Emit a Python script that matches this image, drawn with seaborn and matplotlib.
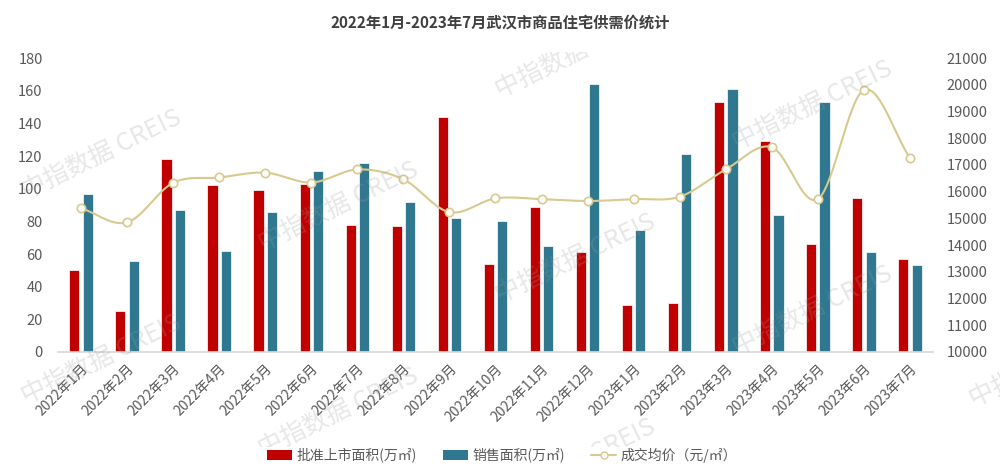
import matplotlib
matplotlib.use("Agg")
import matplotlib.pyplot as plt
from matplotlib.lines import Line2D
from matplotlib.patches import Patch
from matplotlib.transforms import Bbox, TransformedBbox
import numpy as np
import pandas as pd
import seaborn as sns

# ---- data ----
months = ["2022年1月", "2022年2月", "2022年3月", "2022年4月", "2022年5月", "2022年6月",
          "2022年7月", "2022年8月", "2022年9月", "2022年10月", "2022年11月", "2022年12月",
          "2023年1月", "2023年2月", "2023年3月", "2023年4月", "2023年5月", "2023年6月",
          "2023年7月"]
approved = [50, 25, 118, 102, 99, 103, 78, 77, 144, 54, 89, 61, 29, 30, 153, 129, 66, 94, 57]
sold = [97, 56, 87, 62, 86, 111, 116, 92, 82, 80, 65, 164, 75, 121, 161, 84, 153, 61, 53]
price = [15380, 14850, 16330, 16530, 16710, 16340, 16830, 16460, 15230, 15750, 15720,
         15650, 15720, 15810, 16830, 17660, 15720, 19800, 17260]

series_names = ["批准上市面积(万㎡)", "销售面积(万㎡)"]
line_name = "成交均价（元/㎡）"
title = "2022年1月-2023年7月武汉市商品住宅供需价统计"

RED = "#C00000"
TEAL = "#2F7890"
KHAKI = "#D8C98E"
GREY = "#595959"

sns.set_theme(style="white")
plt.rcParams["font.family"] = ["Noto Sans CJK SC", "DejaVu Sans"]

# long table for seaborn
df = pd.DataFrame({
    "month": months * 2,
    "value": approved + sold,
    "series": [series_names[0]] * len(months) + [series_names[1]] * len(months),
})

fig = plt.figure(figsize=(10, 4.74), dpi=100)
ax = fig.add_axes([0.058, 0.2574, 0.875, 0.6202])

sns.barplot(data=df, x="month", y="value", hue="series", order=months,
            palette=[RED, TEAL], saturation=1, width=0.58, gap=0.24,
            edgecolor="white", linewidth=0.5, legend=False, ax=ax)

ax.set_xlim(-0.5, len(months) - 0.5)
ax.set_ylim(0, 180)
ax.set_yticks(range(0, 181, 20))
ax.set_xlabel("")
ax.set_ylabel("")
for s in ["top", "left", "right"]:
    ax.spines[s].set_visible(False)
ax.spines["bottom"].set_color("#D9D9D9")
ax.tick_params(axis="y", length=0, pad=11, labelsize=10.5, labelcolor=GREY)
ax.tick_params(axis="x", which="major", length=0, pad=7, labelsize=10, labelcolor=GREY)
ax.set_xticks(np.arange(-0.5, len(months), 1), minor=True)
ax.tick_params(axis="x", which="minor", length=5, color="#D9D9D9")
plt.setp(ax.get_xticklabels(), rotation=45, ha="right", rotation_mode="anchor")

# ---- price line (smoothed) on right axis ----
ax2 = ax.twinx()
x = np.arange(len(price))
y = np.array(price, dtype=float)
# catmull-rom style smoothing between the read points
tang = np.gradient(y)
xs, ys = [], []
for i in range(len(x) - 1):
    t = np.linspace(0, 1, 30)
    h00 = 2 * t**3 - 3 * t**2 + 1
    h10 = t**3 - 2 * t**2 + t
    h01 = -2 * t**3 + 3 * t**2
    h11 = t**3 - t**2
    xs.append(x[i] + t)
    ys.append(h00 * y[i] + h10 * tang[i] + h01 * y[i + 1] + h11 * tang[i + 1])
ax2.plot(np.concatenate(xs), np.concatenate(ys), color=KHAKI, lw=1.5, zorder=3)
ax2.plot(x, y, linestyle="none", marker="o", ms=6, mfc="white", mec=KHAKI, mew=1.2, zorder=4)
ax2.set_ylim(10000, 21000)
ax2.set_yticks(range(10000, 21001, 1000))
for s in ["top", "left", "right", "bottom"]:
    ax2.spines[s].set_visible(False)
ax2.tick_params(axis="y", length=0, pad=10, labelsize=10.5, labelcolor=GREY)
ax2.grid(False)
ax.grid(False)

fig.text(0.5, 0.953, title, ha="center", va="center", fontsize=11, fontweight="bold",
         color="#404040")

handles = [Patch(facecolor=RED, edgecolor="none"),
           Patch(facecolor=TEAL, edgecolor="none"),
           Line2D([], [], color=KHAKI, lw=1.5, marker="o", ms=5, mfc="white", mec=KHAKI)]
fig.legend(handles, series_names + [line_name], loc="center", bbox_to_anchor=(0.502, 0.04),
           ncol=3, frameon=False, fontsize=10, handlelength=1.8, handletextpad=0.3,
           columnspacing=1.9, labelcolor=GREY)

# ---- watermark stamps (clipped to the picture band like the source image) ----
clip = TransformedBbox(Bbox([[0, 27 / 474], [1, 422 / 474]]), fig.transFigure)
stamps = [(101, 155), (338, 207), (575, 259), (812, 311), (101, 360), (338, 413),
          (575, 54), (812, 106), (1049, 363), (575, 464)]
for px, py in stamps:
    t = fig.text(px / 1000, 1 - py / 474, "中指数据 CREIS", ha="center", va="center",
                 rotation=26, rotation_mode="anchor", fontsize=18, fontweight="medium",
                 color="#9A9A9A", alpha=0.24, zorder=10)
    t.set_clip_on(True)
    t.set_clip_box(clip)

fig.savefig("out.png", dpi=100)
